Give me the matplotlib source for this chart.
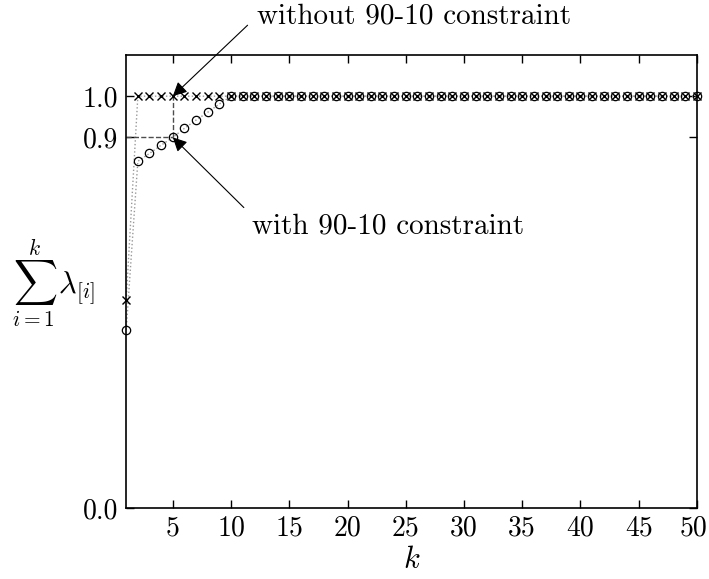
import numpy as np
import matplotlib.pyplot as plt
import matplotlib.transforms as mtransforms

plt.rcParams['mathtext.fontset'] = 'cm'
plt.rcParams['font.family'] = ['cmr10', 'DejaVu Serif']
plt.rcParams['axes.formatter.use_mathtext'] = True

# data
k = np.arange(1, 51)
without_head = [0.506]          # k = 1
with_head = [0.433, 0.842, 0.861, 0.881, 0.900, 0.922, 0.942, 0.961, 0.981]  # k = 1..9
without_vals = np.array(without_head + [1.0] * 49)
with_vals = np.array(with_head + [1.0] * 41)

xticks = [5, 10, 15, 20, 25, 30, 35, 40, 45, 50]
yticks = [0.0, 0.9, 1.0]

fs = 20

fig = plt.figure(figsize=(7.09, 5.79), dpi=100)
ax = fig.add_axes([0.178, 0.1226, 0.805, 0.7824])

# dotted connecting lines
ax.plot(k, without_vals, ls=':', color='0.6', lw=1.0)
ax.plot(k, with_vals, ls=':', color='0.6', lw=1.0)
# markers (drawn over the frame at k = 1)
ax.plot(k, without_vals, ls='none', marker='x', ms=6, mew=1.0, color='black',
        clip_on=False, zorder=4)
ax.plot(k, with_vals, ls='none', marker='o', ms=6, mew=0.9, mfc='none', mec='black',
        clip_on=False, zorder=4)

# dashed guide lines at k = 5
ax.plot([1, 5], [0.9, 0.9], ls='--', color='0.3', lw=1.0)
ax.plot([5, 5], [0.9, 1.0], ls='--', color='0.3', lw=1.0)

ax.set_xlim(1, 50)
ax.set_ylim(0, 1.1)
ax.set_xticks(xticks)
ax.set_xticklabels([str(v) for v in xticks])
ax.set_yticks(yticks)
ax.set_yticklabels(['%.1f' % v for v in yticks])
ax.tick_params(direction='in', top=True, right=True, labelsize=fs, length=6, width=1)
ax.tick_params(axis='x', pad=5)
ax.tick_params(axis='y', pad=6)
for s in ax.spines.values():
    s.set_linewidth(1.2)

# keep the last x label inside the figure
last = ax.get_xticklabels()[-1]
last.set_transform(last.get_transform() +
                   mtransforms.ScaledTranslation(-3 / 100, 0, fig.dpi_scale_trans))

ax.set_xlabel(r'$k$', fontsize=fs + 2, labelpad=4)
fig.text(12 / 709, 1 - 283 / 579, r'$\sum_{i=1}^{k}\,\lambda_{[i]}$', fontsize=fs + 2,
         ha='left', va='center')

ax.annotate('without 90-10 constraint', xy=(5, 1.0), xycoords='data',
            xytext=(257, 563), textcoords='figure pixels', fontsize=fs + 1,
            va='center', ha='left',
            arrowprops=dict(arrowstyle='-|>', color='black', lw=0.8,
                            shrinkA=0, shrinkB=0, relpos=(-0.03, 0.15)))
ax.annotate('with 90-10 constraint', xy=(5, 0.9), xycoords='data',
            xytext=(252, 353), textcoords='figure pixels', fontsize=fs + 1,
            va='center', ha='left',
            arrowprops=dict(arrowstyle='-|>', color='black', lw=0.8,
                            shrinkA=0, shrinkB=0, relpos=(-0.03, 1.2)))

fig.savefig('out.png', dpi=100)
